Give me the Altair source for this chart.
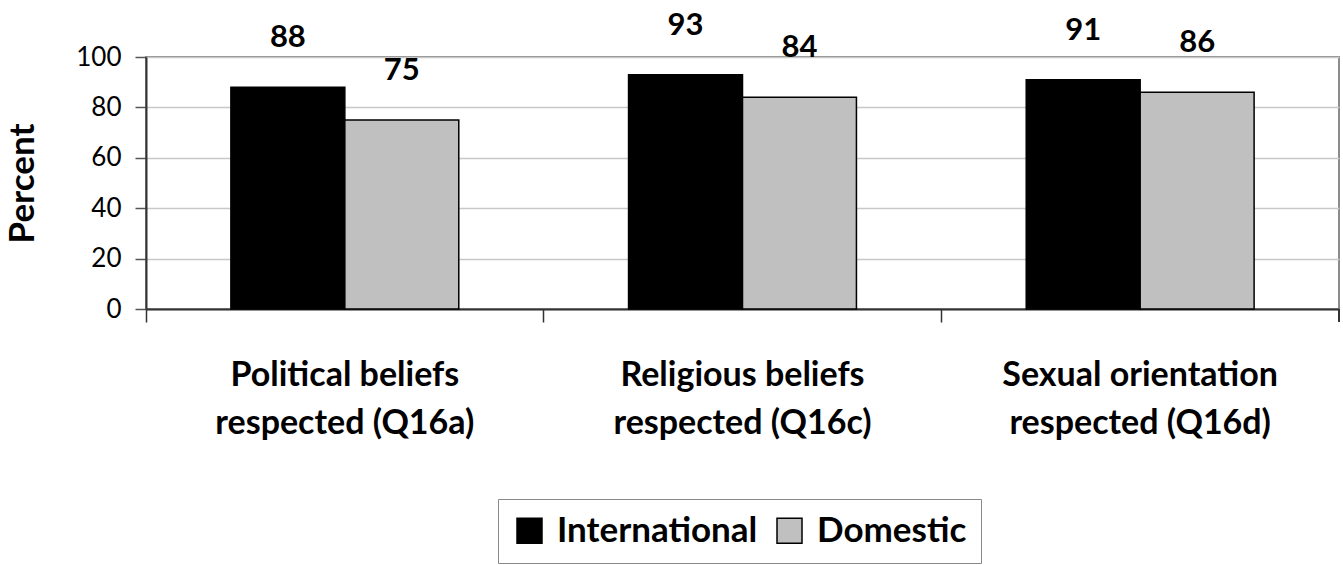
import altair as alt
import pandas as pd

# Survey items (two-line axis labels) and the two student groups
categories = [
    "Political beliefs\nrespected (Q16a)",
    "Religious beliefs\nrespected (Q16c)",
    "Sexual orientation\nrespected (Q16d)",
]
groups = ["International", "Domestic"]
international = [88, 93, 91]
domestic = [75, 84, 86]
colors = ["#000000", "#c0c0c0"]
y_ticks = [0, 20, 40, 60, 80, 100]

rows = []
for cat, i_val, d_val in zip(categories, international, domestic):
    rows.append({"item": cat, "group": groups[0], "percent": i_val})
    rows.append({"item": cat, "group": groups[1], "percent": d_val})
df = pd.DataFrame(rows)

W, H = 1193, 252
FONT = "Lato"

x_enc = alt.X(
    "item:N",
    sort=categories,
    scale=alt.Scale(paddingInner=0, paddingOuter=0),
    axis=alt.Axis(
        title=None,
        bandPosition=0,
        labelAngle=0,
        labelExpr="split(datum.label, '\\n')",
        labelFont=FONT,
        labelFontSize=34,
        labelFontWeight="bold",
        labelColor="black",
        labelPadding=36,
        labelLineHeight=48,
        labelBaseline="top",
        labelLimit=500,
        labelOverlap=False,
        tickSize=13,
        tickColor="#333333",
        tickWidth=1.5,
        domainColor="#333333",
        domainWidth=2,
    ),
)
xoff_enc = alt.XOffset(
    "group:N", sort=groups, scale=alt.Scale(paddingInner=0, paddingOuter=0.745)
)
y_enc = alt.Y(
    "percent:Q",
    scale=alt.Scale(domain=[0, 100], nice=False),
    axis=alt.Axis(
        title="Percent",
        values=y_ticks,
        titleFont=FONT,
        titleFontSize=35,
        titleFontWeight="bold",
        titleColor="black",
        titleAngle=-90,
        titleX=-124,
        titleY=H / 2,
        titleAlign="center",
        titleBaseline="middle",
        labelFont=FONT,
        labelFontSize=26,
        labelColor="black",
        labelPadding=14,
        tickSize=11,
        tickColor="#555555",
        tickWidth=1.5,
        domainColor="#333333",
        domainWidth=2,
        gridColor="#c8c8c8",
        gridWidth=1.5,
    ),
)

bars = alt.Chart().mark_bar(stroke="black", strokeWidth=1.5).encode(
    x=x_enc,
    xOffset=xoff_enc,
    y=y_enc,
    color=alt.Color(
        "group:N",
        sort=groups,
        scale=alt.Scale(domain=groups, range=colors),
        legend=alt.Legend(
            title=None,
            orient="none",
            legendX=352,
            legendY=442,
            direction="horizontal",
            symbolType="square",
            symbolSize=625,
            symbolStrokeColor="black",
            symbolStrokeWidth=1.5,
            symbolOpacity=1,
            labelFont=FONT,
            labelFontSize=35,
            labelFontWeight="bold",
            labelColor="black",
            labelLimit=500,
            labelOffset=10,
            columnPadding=14,
            padding=14,
            strokeColor="#888888",
            fillColor="white",
        ),
    ),
)

values = alt.Chart().mark_text(
    dy=-49, baseline="middle", fontSize=31, fontWeight="bold", font=FONT, color="black"
).encode(x=x_enc, xOffset=xoff_enc, y=y_enc, text="percent:Q")

# closing tick at the right end of the category axis
end_tick = alt.Chart().mark_rule(color="#333333", strokeWidth=1.5).encode(
    x=alt.value(W), y=alt.value(H), y2=alt.value(H + 13)
)

chart = (
    alt.layer(bars, values, end_tick, data=df)
    .properties(
        width=W,
        height=H,
        autosize=alt.AutoSizeParams(type="none"),
        padding={"left": 146, "top": 57, "right": 4, "bottom": 256},
    )
    .configure(font=FONT)
    .configure_view(stroke="#8c8c8c", strokeWidth=2)
)

chart.save("out.html", embed_options={"renderer": "svg", "actions": False})
